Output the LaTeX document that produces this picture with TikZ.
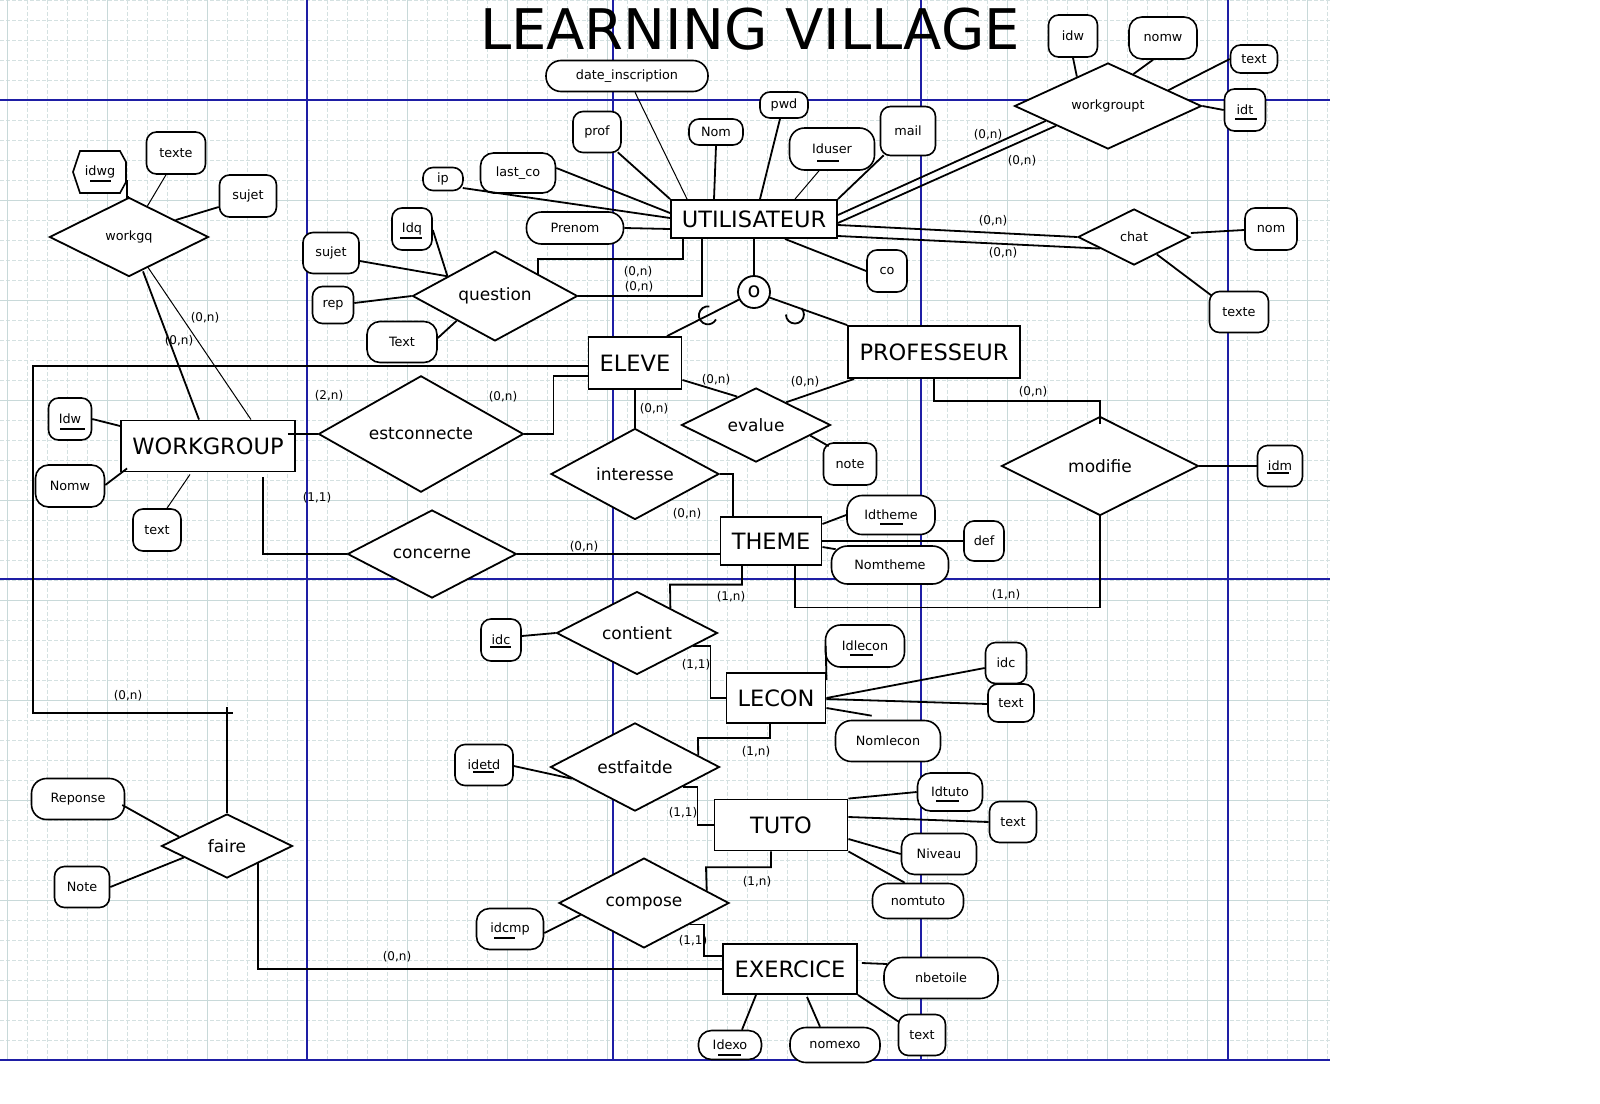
\documentclass[tikz,border=0pt]{standalone}
\usepackage{fontspec}
\setmainfont{DejaVu Sans}
\usetikzlibrary{calc,shapes.geometric}
\newcommand\attrfont{\fontsize{12.8}{15}\selectfont}
\newcommand\entfont{\fontsize{22.5}{26}\selectfont}
\newcommand\relfont{\fontsize{17}{20}\selectfont}
\newcommand\cardfont{\fontsize{12}{14}\selectfont}
\definecolor{gridc}{RGB}{212,225,225}
\definecolor{gridm}{RGB}{200,217,217}
\definecolor{pageblue}{RGB}{30,30,165}
\newcommand\keyul[4]{\draw[line width=1.3pt] ($(#1.center)+(#2,#4)$) -- ($(#1.center)+(#3,#4)$);}
\tikzset{
 ent/.style 2 args={draw, fill=white, line width=1.9pt, minimum width=#1pt, minimum height=#2pt, inner sep=0pt, font=\entfont},
 rel/.style 2 args={diamond, draw, fill=white, line width=1.8pt, minimum width=#1pt, minimum height=#2pt, inner sep=0pt, font=\relfont},
 attr/.style 2 args={draw, fill=white, line width=1.6pt, rounded corners=10pt, minimum width=#1pt, minimum height=#2pt, inner sep=0pt, font=\attrfont},
 card/.style={inner sep=0pt, font=\cardfont},
 lnk/.style={line width=1.8pt},
 lnkthin/.style={line width=1pt},
 gridminor/.style={gridc, line width=0.7pt, dash pattern=on 4pt off 2pt},
 gridmajor/.style={gridm, line width=0.9pt},
 pageline/.style={pageblue, line width=1.1pt}
}
\begin{document}
\begin{tikzpicture}[x=1pt,y=-1pt]
\useasboundingbox (0,0) rectangle (1600,1103);
\fill[white] (0,0) rectangle (1600,1103);
% grid
\foreach \i in {0,...,66} { \draw[gridminor] ({7+20*\i},0) -- ({7+20*\i},1060); }
\foreach \i in {0,...,52} { \draw[gridminor] (0,{20*\i}) -- (1330,{20*\i}); }
\foreach \i in {0,...,13} { \draw[gridmajor] ({7+100*\i},0) -- ({7+100*\i},1060); }
\foreach \i in {1,...,10} { \draw[gridmajor] (0,{100*\i}) -- (1330,{100*\i}); }
\foreach \xx in {307,613,921,1228} { \draw[pageline] (\xx,0) -- (\xx,1060); }
\foreach \yy in {100,579,1060} { \draw[pageline] (0,\yy) -- (1330,\yy); }

% title
\node[inner sep=0pt, font=\fontsize{56}{60}\selectfont] (title) at (750,29) {LEARNING VILLAGE};

% entities
\node[ent={166}{38}] (util) at (754,219) {UTILISATEUR};
\node[ent={93}{52}] (eleve) at (635,363) {ELEVE};
\node[ent={172}{52}] (professeur) at (934,352) {PROFESSEUR};
\node[ent={174}{51}] (workgroup) at (208,446) {WORKGROUP};
\node[ent={101}{48}] (theme) at (771,541) {THEME};
\node[ent={99}{50}] (lecon) at (776,698) {LECON};
\node[ent={133}{51}] (tuto) at (781,825) {TUTO};
\node[ent={134}{50}] (exercice) at (790,969) {EXERCICE};

% relations
\node[rel={165}{82}] (question) at (495,296) {question};
\node[rel={205}{102}] (estco) at (421,434) {estconnecte};
\node[rel={169}{82}] (concerne) at (432,554) {concerne};
\node[rel={149}{74}] (evalue) at (756,425) {evalue};
\node[rel={168}{85}] (interesse) at (635,474) {interesse};
\node[rel={197}{99}] (modifie) at (1100,466) {modifie};
\node[rel={187}{86}, font=\attrfont] (workgroupt) at (1108,106) {workgroupt};
\node[rel={112}{56}, font=\attrfont] (chat) at (1134,237) {chat};
\node[rel={159}{79}, font=\attrfont] (workgq) at (129,237) {workgq};
\node[rel={161}{80}] (contient) at (637,633) {contient};
\node[rel={169}{83}] (estfaitde) at (635,767) {estfaitde};
\node[rel={170}{85}] (compose) at (644,903) {compose};
\node[rel={131}{64}] (faire) at (227,846) {faire};

% specialisation circle
\node[circle, draw, fill=white, line width=1.8pt, minimum size=32pt, inner sep=0pt, font=\fontsize{21}{23}\selectfont] (isa) at (754,292) {o};

% attributes of UTILISATEUR
\node[attr={162}{31}, rounded corners=15pt] (dateins) at (627,76) {date\_inscription};
\node[attr={48}{41}] (profattr) at (597,132) {prof};
\node[attr={54}{26}] (nom) at (716,132) {Nom};
\node[attr={48}{26}] (pwd) at (784,105) {pwd};
\node[attr={85}{42}, rounded corners=15pt] (iduser) at (832,149) {Iduser};
\node[attr={55}{49}] (mail) at (908,131) {mail};
\node[attr={75}{40}, rounded corners=13pt] (lastco) at (518,173) {last\_co};
\node[attr={40}{23}] (ip) at (443,179) {ip};
\node[attr={97}{32}, rounded corners=15pt] (prenom) at (575,228) {Prenom};
\node[attr={40}{42}] (co) at (887,271) {co};

% attributes of question
\node[attr={56}{41}] (qsujet) at (331,253) {sujet};
\node[attr={40}{42}] (idq) at (412,229) {Idq};
\node[attr={41}{37}] (rep) at (333,305) {rep};
\node[attr={70}{41}, rounded corners=13pt] (qtext) at (402,342) {Text};

% workgq
\filldraw[fill=white, line width=1.6pt] (80,151) -- (120,151) -- (126,162) -- (126,182) -- (120,193) -- (80,193) -- (73,172) -- cycle;
\node[minimum width=53pt, minimum height=42pt, inner sep=0pt, font=\attrfont] (idwg) at (100,172) {idwg};
\node[attr={59}{42}] (wqtexte) at (176,153) {texte};
\node[attr={57}{42}] (wqsujet) at (248,196) {sujet};

% WORKGROUP attributes
\node[attr={43}{42}] (idw) at (70,419) {Idw};
\node[attr={69}{42}, rounded corners=13pt] (nomw) at (70,486) {Nomw};
\node[attr={48}{42}] (wgtext) at (157,530) {text};

% THEME attributes
\node[attr={88}{39}, rounded corners=15pt] (idtheme) at (891,515) {Idtheme};
\node[attr={117}{38}, rounded corners=16pt] (nomtheme) at (890,565) {Nomtheme};
\node[attr={40}{40}] (def) at (984,541) {def};

\node[attr={45}{41}] (idm) at (1280,466) {idm};
\node[attr={53}{42}] (note) at (850,464) {note};

% workgroupt attributes
\node[attr={49}{42}] (wtidw) at (1073,36) {idw};
\node[attr={68}{42}, rounded corners=13pt] (wtnomw) at (1163,38) {nomw};
\node[attr={47}{28}] (wttext) at (1254,59) {text};
\node[attr={41}{42}] (idt) at (1245,110) {idt};

% chat attributes
\node[attr={52}{42}] (chatnom) at (1271,229) {nom};
\node[attr={59}{41}] (chattexte) at (1239,312) {texte};

% contient / LECON
\node[attr={40}{42}] (idc) at (501,640) {idc};
\node[attr={79}{42}, rounded corners=15pt] (idlecon) at (865,646) {Idlecon};
\node[attr={41}{41}] (lidc) at (1006,663) {idc};
\node[attr={46}{38}] (ltext) at (1011,703) {text};
\node[attr={105}{41}, rounded corners=16pt] (nomlecon) at (888,741) {Nomlecon};

% estfaitde / TUTO
\node[attr={58}{41}] (idetd) at (484,765) {idetd};
\node[attr={65}{38}, rounded corners=13pt] (idtuto) at (950,792) {Idtuto};
\node[attr={47}{41}] (ttext) at (1013,822) {text};
\node[attr={75}{41}, rounded corners=13pt] (niveau) at (939,854) {Niveau};
\node[attr={91}{35}, rounded corners=15pt] (nomtuto) at (918,901) {nomtuto};

% compose / EXERCICE
\node[attr={67}{41}, rounded corners=13pt] (idcmp) at (510,929) {idcmp};
\node[attr={63}{29}, rounded corners=13pt] (idexo) at (730,1045) {Idexo};
\node[attr={90}{35}, rounded corners=16pt] (nomexo) at (835,1045) {nomexo};
\node[attr={47}{41}] (etext) at (922,1035) {text};
\node[attr={114}{41}, rounded corners=18pt] (nbetoile) at (941,978) {nbetoile};

% faire
\node[attr={93}{41}, rounded corners=15pt] (reponse) at (78,799) {Reponse};
\node[attr={55}{41}] (note2) at (82,887) {Note};

% key underlines
\keyul{idwg}{-10}{11}{9}
\keyul{iduser}{-15}{7}{12}
\keyul{idq}{-12}{10}{9}
\keyul{idt}{-10}{12}{9}
\keyul{idw}{-10}{15}{10}
\keyul{idtheme}{-11}{12}{9}
\keyul{idc}{-11}{10}{7}
\keyul{idlecon}{-15}{8}{9}
\keyul{idetd}{-11}{10}{7}
\keyul{idtuto}{-14}{9}{9}
\keyul{idexo}{-12}{11}{10}
\keyul{idcmp}{-16}{5}{9}
\keyul{idm}{-13}{9}{7}

% ---------- connectors: UTILISATEUR attributes
\draw[lnkthin] ($(dateins.south)+(8,0)$) -- ($(util.north west)+(17,0)$);
\draw[lnk] ($(profattr.south east)+(-4,-1)$) -- (util.north west);
\draw[lnk] (nom.south) -- ($(util.north)+(-40,0)$);
\draw[lnk] ($(pwd.south)+(-4,0)$) -- ($(util.north)+(6,0)$);
\draw[lnkthin] ($(iduser.south)+(-13,0)$) -- ($(util.north)+(41,0)$);
\draw[lnk] ($(mail.south west)+(4,-1)$) -- (util.north east);
\draw[lnk] ($(lastco.east)+(0,-5)$) -- ($(util.west)+(0,-6)$);
\draw[lnk] ($(ip.east)+(-1,9)$) -- ($(util.west)+(0,-1)$);
\draw[lnk] (prenom.east) -- ($(util.west)+(0,10)$);
\draw[lnk] ($(util.south)+(31,0)$) -- (co.west);

% question
\draw[lnk] ($(question.north)!0.52!(question.east)$) |- ($(util.south)+(-71,20)$) -- ($(util.south)+(-71,0)$);
\draw[lnk] (question.east) -| ($(util.south)+(-52,0)$);
\draw[lnk] ($(qsujet.east)+(0,8)$) -- ($(question.west)!0.43!(question.north)$);
\draw[lnk] ($(idq.east)+(0,1)$) -- ($(question.west)!0.43!(question.north)$);
\draw[lnk] ($(rep.east)+(0,-2)$) -- (question.west);
\draw[lnk] ($(qtext.east)+(0,-4)$) -- ($(question.west)!0.54!(question.south)$);

% specialisation
\coordinate (elevetop) at ($(eleve.north)+(32,0)$);
\draw[lnk] (util.south) -- (isa.north);
\draw[lnk] (isa) -- (elevetop);
\draw[lnk] (isa) -- (professeur.north west);
\coordinate (arcA) at ($(isa.center)!0.53!(elevetop)$);
\coordinate (arcB) at ($(isa.center)!0.44!(professeur.north west)+(0,8)$);
\draw[lnk] ($(arcA)+(80:9pt)$) arc[start angle=80, end angle=333, radius=9pt];
\draw[lnk] ($(arcB)+(180:9pt)$) arc[start angle=180, end angle=405, radius=9pt];

% ELEVE -> faire
\coordinate (c1) at (33,366);
\coordinate (c2) at (33,713);
\coordinate (c3) at (233,713);
\draw[lnk] (eleve.west |- c1) -- (c1) -- (c2) -| (faire.north);
\draw[lnk] (c2) -- (c3);
\draw[lnk] ($(faire.north)+(0,-106)$) -- ++(0,8);

% estconnecte
\draw[lnk] ($(eleve.west)+(0,13)$) -- ++(-34,0) |- (estco.east);
\draw[lnk] ($(workgroup.east |- estco.west)+(-8,0)$) -- (estco.west);

% concerne
\draw[lnk] ($(workgroup.south)+(55,5)$) |- (concerne.west);
\draw[lnk] (concerne.east) -- (theme.west |- concerne.east);

% workgq
\draw[lnk] ($(workgq.south)+(14,-6)$) -- ($(workgroup.north)+(-9,0)$);
\draw[lnkthin] ($(workgq.south)+(19,-10)$) -- ($(workgroup.north)+(43,0)$);
\draw[lnk] ($(idwg.east)+(0,8)$) |- (workgq.north);
\draw[lnkthin] ($(wqtexte.south)+(-10,0)$) -- ($(workgq.north)!0.23!(workgq.east)$);
\draw[lnk] ($(wqsujet.west)+(0,11)$) -- ($(workgq.north)!0.58!(workgq.east)$);

% WORKGROUP attributes
\draw[lnk] (idw.east) -- ($(workgroup.west)+(0,-20)$);
\draw[lnk] ($(nomw.east)+(0,-1)$) -- ($(workgroup.south west)+(7,-4)$);
\draw[lnkthin] ($(wgtext.north)+(10,0)$) -- ($(workgroup.south)+(-18,2)$);

% interesse
\draw[lnk] (eleve.south) -- (interesse.north);
\draw[lnk] (interesse.east) -| ($(theme.north)+(-38,0)$);

% THEME attributes
\draw[lnk] ($(theme.east)+(0,-17)$) -- (idtheme.west);
\draw[lnk] (theme.east |- def.west) -- (def.west);
\draw[lnk] ($(theme.east)+(0,6)$) -- ($(nomtheme.north west)+(5,4)$);

% modifie
\draw[lnk] ($(theme.south)+(24,0)$) |- ($(modifie.south)+(0,91)$) -- (modifie.south);
\draw[lnk] (professeur.south) |- ($(modifie.north)+(0,-15)$) -- ($(modifie.north)+(0,8)$);
\draw[lnk] (modifie.east) -- (idm.west);

% evalue
\draw[lnk] ($(eleve.south east)+(0,-10)$) -- ($(evalue.west)!0.75!(evalue.north)$);
\draw[lnk] ($(professeur.south west)+(7,0)$) -- ($(evalue.north)!0.4!(evalue.east)$);
\draw[lnk] ($(evalue.east)!0.28!(evalue.south)$) -- ($(note.north west)+(6,4)$);

% workgroupt
\draw[lnk] (wtidw.south) -- ($(workgroupt.north)!0.33!(workgroupt.west)$);
\draw[lnk] ($(wtnomw.south)+(-10,0)$) -- ($(workgroupt.north)!0.27!(workgroupt.east)$);
\draw[lnk] (wttext.west) -- ($(workgroupt.north)!0.64!(workgroupt.east)$);
\draw[lnk] (workgroupt.east) -- (idt.west);
\draw[lnk] ($(util.east)+(0,-4)$) -- ($(workgroupt.west)!0.34!(workgroupt.south)$);
\draw[lnk] ($(util.east)+(0,4)$) -- ($(workgroupt.west)!0.45!(workgroupt.south)$);

% chat
\draw[lnk] ($(util.east)+(0,6)$) -- (chat.west);
\draw[lnk] ($(util.east)+(0,17)$) -- ($(chat.west)!0.4!(chat.south)$);
\draw[lnk] ($(chat.east)+(0,-4)$) -- ($(chatnom.west)+(0,1)$);
\draw[lnk] ($(chat.east)!0.6!(chat.south)$) -- ($(chattexte.north west)+(3,5)$);

% contient
\draw[lnk] ($(theme.south)+(-29,0)$) |- ($(contient.north)+(33,-6)$) -- ($(contient.north)!0.41!(contient.east)$);
\draw[lnk] ($(idc.east)+(0,-4)$) -- (contient.west);
\draw[lnk] ($(contient.east)!0.31!(contient.south)$) -| ($(lecon.west)+(-15,0)$) -- (lecon.west);

% LECON attributes
\draw[lnk] ($(lecon.north east)+(0,8)$) -- ($(idlecon.west)+(1,0)$);
\draw[lnk] (lecon.east) -- ($(lidc.west)+(0,5)$);
\draw[lnk] ($(lecon.east)+(0,1)$) -- ($(ltext.west)+(0,1)$);
\draw[lnk] ($(lecon.east)+(0,10)$) -- ($(nomlecon.north west)+(37,-4)$);

% estfaitde
\draw[lnk] ($(lecon.south)+(-6,0)$) |- ($(estfaitde.north)+(63,16)$) -- ($(estfaitde.north)!0.74!(estfaitde.east)$);
\draw[lnk] ($(estfaitde.east)!0.44!(estfaitde.south)$) -| ($(tuto.west)+(-16,0)$) -- (tuto.west);
\draw[lnk] ($(idetd.east)+(0,1)$) -- ($(estfaitde.west)!0.26!(estfaitde.south)$);

% TUTO attributes
\draw[lnk] (tuto.north east) -- (idtuto.west);
\draw[lnk] ($(tuto.east)+(0,-8)$) -- (ttext.west);
\draw[lnk] ($(tuto.east)+(0,14)$) -- (niveau.west);
\draw[lnk] (tuto.south east) -- ($(nomtuto.north west)+(33,0)$);

% compose
\draw[lnk] ($(tuto.south)+(-10,0)$) |- ($(compose.north)+(62,10)$) -- ($(compose.north)!0.73!(compose.east)$);
\draw[lnk] ($(compose.east)!0.47!(compose.south)$) -| ($(exercice.west)+(-18,-13)$) -- ($(exercice.west)+(0,-13)$);
\draw[lnk] ($(idcmp.east)+(0,4)$) -- ($(compose.west)!0.26!(compose.south)$);

% EXERCICE
\draw[lnk] ($(faire.east)!0.53!(faire.south)$) |- (exercice.west);
\draw[lnk] ($(exercice.south)+(-34,0)$) -- ($(idexo.north)+(12,0)$);
\draw[lnk] ($(exercice.south)+(17,2)$) -- ($(nomexo.north)+(-15,0)$);
\draw[lnk] (exercice.south east) -- ($(etext.north west)+(1,8)$);
\draw[lnk] ($(exercice.east)+(4,-6)$) -- ($(nbetoile.west)+(4,-14)$);

% faire attributes
\draw[lnk] ($(reponse.east)+(-3,6)$) -- ($(faire.west)!0.28!(faire.north)$);
\draw[lnk] (note2.east) -- ($(faire.west)!0.35!(faire.south)$);

% cardinalities
\node[card] (l1) at (638,272) {(0,n)};
\node[card] (l2) at (639,287) {(0,n)};
\node[card] (l3) at (988,135) {(0,n)};
\node[card] (l4) at (1022,161) {(0,n)};
\node[card] (l5) at (993,221) {(0,n)};
\node[card] (l6) at (1003,253) {(0,n)};
\node[card] (l7) at (205,318) {(0,n)};
\node[card] (l8) at (179,341) {(0,n)};
\node[card] (l9) at (329,396) {(2,n)};
\node[card] (l10) at (503,397) {(0,n)};
\node[card] (l11) at (716,380) {(0,n)};
\node[card] (l12) at (805,382) {(0,n)};
\node[card] (l13) at (1033,392) {(0,n)};
\node[card] (l14) at (654,409) {(0,n)};
\node[card] (l15) at (317,498) {(1,1)};
\node[card] (l16) at (687,514) {(0,n)};
\node[card] (l17) at (584,547) {(0,n)};
\node[card] (l18) at (1006,595) {(1,n)};
\node[card] (l19) at (731,597) {(1,n)};
\node[card] (l20) at (696,665) {(1,1)};
\node[card] (l21) at (128,696) {(0,n)};
\node[card] (l22) at (756,752) {(1,n)};
\node[card] (l23) at (683,813) {(1,1)};
\node[card] (l24) at (757,882) {(1,n)};
\node[card] (l25) at (693,941) {(1,1)};
\node[card] (l26) at (397,957) {(0,n)};
\end{tikzpicture}
\end{document}
